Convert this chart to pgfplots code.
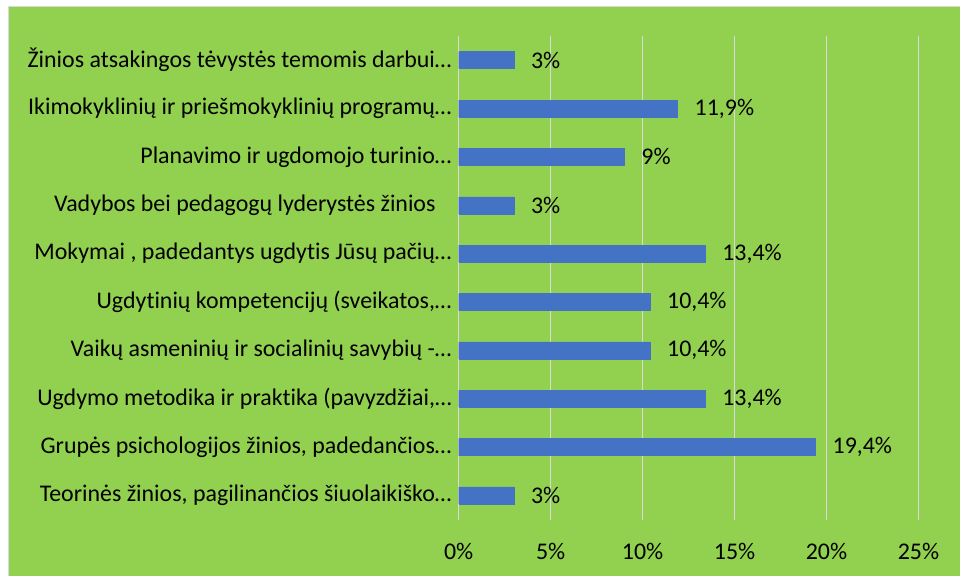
\documentclass[border=0pt]{standalone}
\usepackage{fontspec}
\setmainfont{Carlito}[Ligatures={NoCommon}]
\usepackage{pgfplots}
\pgfplotsset{compat=1.18}
\definecolor{bg}{HTML}{92D050}
\definecolor{barc}{HTML}{4472C4}
\definecolor{gridc}{HTML}{D9D9D9}
\newcommand{\lblfont}{\fontsize{24}{28}\selectfont}
\begin{document}
\begin{tikzpicture}[x=1bp,y=1bp]
\fill[white] (0,0) rectangle (961,576);
\fill[bg] (9,0) rectangle (961,569);
\draw[gridc, line width=1.2bp] (8.5,0) -- (8.5,569.5) -- (961,569.5);
\begin{axis}[
 at={(459bp,56bp)}, anchor=south west,
 scale only axis, width=460bp, height=484bp,
 xbar, bar width=17bp,
 xmin=0, xmax=25, ymin=-0.5, ymax=9.5,
 axis line style={draw=none},
 major tick length=0pt,
 xtick={0,5,10,15,20,25},
 xticklabels={0\%,5\%,10\%,15\%,20\%,25\%},
 ytick={0,1,2,3,4,5,6,7,8,9},
 yticklabels={
  {Teorinės žinios, pagilinančios šiuolaikiško…},
  {Grupės psichologijos žinios, padedančios…},
  {Ugdymo metodika ir praktika (pavyzdžiai,…},
  {Vaikų asmeninių ir socialinių savybių -…},
  {Ugdytinių kompetencijų (sveikatos,…},
  {Mokymai , padedantys ugdytis Jūsų pačių…},
  {Vadybos bei pedagogų lyderystės žinios\hspace*{16bp}},
  {Planavimo ir ugdomojo turinio…},
  {Ikimokyklinių ir priešmokyklinių programų…},
  {Žinios atsakingos tėvystės temomis darbui…}},
 xmajorgrids, ymajorgrids=false,
 major grid style={gridc, line width=1.2bp},
 ticklabel style={font=\lblfont},
 xticklabel style={anchor=center, yshift=-32bp},
 yticklabel style={anchor=east, inner sep=0pt, xshift=-7bp},
 point meta=explicit symbolic,
 nodes near coords,
 every node near coord/.append style={font=\lblfont, anchor=west, inner sep=0pt, xshift=17bp, text=black},
 clip=false,
]
\addplot[fill=barc, draw=barc] coordinates {
 (3,0) [3\%]
 (19.4,1) [19,4\%]
 (13.4,2) [13,4\%]
 (10.4,3) [10,4\%]
 (10.4,4) [10,4\%]
 (13.4,5) [13,4\%]
 (3,6) [3\%]
 (9,7) [9\%]
 (11.9,8) [11,9\%]
 (3,9) [3\%]
};
\end{axis}
\end{tikzpicture}
\end{document}
